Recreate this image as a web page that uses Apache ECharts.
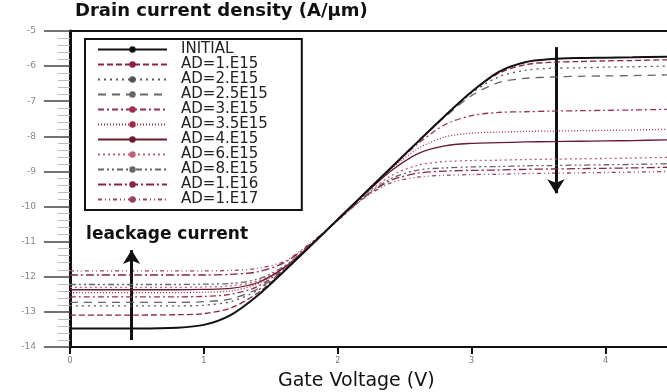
<!DOCTYPE html>
<html>
<head>
<meta charset="utf-8">
<script src="https://cdn.jsdelivr.net/npm/echarts@6/dist/echarts.min.js"></script>
<style>
html, body { margin: 0; padding: 0; background: #fff; }
#chart { width: 667px; height: 392px; }
</style>
</head>
<body>
<div id="chart"></div>
<script>
// gate voltage samples (V)
const gateVoltage = [0, 0.5, 0.8, 1.0, 1.2, 1.4, 1.6, 1.8, 2.0, 2.2, 2.4, 2.6, 2.8, 3.0, 3.2, 3.4, 3.6, 3.8, 4.0, 4.2, 4.46];

// log10 of drain current density (A/um)
const initial = [-13.47, -13.47, -13.45, -13.37, -13.09, -12.54, -11.84, -11.11, -10.37, -9.63, -8.89, -8.15, -7.42, -6.73, -6.17, -5.89, -5.80, -5.77, -5.76, -5.75, -5.73];
const ad1e15 = [-13.09, -13.09, -13.08, -13.05, -12.89, -12.47, -11.83, -11.10, -10.37, -9.63, -8.89, -8.15, -7.42, -6.74, -6.21, -5.96, -5.89, -5.87, -5.85, -5.84, -5.82];
const ad2e15 = [-12.83, -12.83, -12.83, -12.81, -12.71, -12.39, -11.81, -11.10, -10.37, -9.63, -8.89, -8.15, -7.43, -6.77, -6.31, -6.12, -6.06, -6.05, -6.03, -6.02, -6.00];
const ad25e15 = [-12.73, -12.73, -12.73, -12.71, -12.63, -12.35, -11.80, -11.10, -10.37, -9.63, -8.89, -8.15, -7.45, -6.84, -6.47, -6.35, -6.31, -6.29, -6.28, -6.27, -6.25];
const ad3e15 = [-12.57, -12.57, -12.57, -12.56, -12.50, -12.28, -11.77, -11.10, -10.37, -9.63, -8.90, -8.21, -7.67, -7.41, -7.32, -7.30, -7.28, -7.27, -7.26, -7.25, -7.23];
const ad35e15 = [-12.45, -12.45, -12.45, -12.44, -12.40, -12.21, -11.75, -11.09, -10.37, -9.64, -8.93, -8.35, -8.02, -7.91, -7.88, -7.86, -7.85, -7.84, -7.83, -7.82, -7.80];
const ad4e15 = [-12.37, -12.37, -12.37, -12.36, -12.33, -12.17, -11.74, -11.09, -10.37, -9.65, -8.98, -8.49, -8.27, -8.20, -8.18, -8.16, -8.15, -8.14, -8.13, -8.12, -8.10];
const ad6e15 = [-12.30, -12.30, -12.30, -12.29, -12.26, -12.12, -11.72, -11.08, -10.38, -9.68, -9.12, -8.82, -8.72, -8.69, -8.68, -8.66, -8.65, -8.64, -8.63, -8.62, -8.60];
const ad8e15 = [-12.22, -12.22, -12.22, -12.21, -12.19, -12.07, -11.70, -11.08, -10.39, -9.71, -9.20, -8.96, -8.90, -8.87, -8.86, -8.84, -8.83, -8.82, -8.81, -8.80, -8.78];
const ad1e16 = [-11.95, -11.95, -11.95, -11.95, -11.93, -11.86, -11.60, -11.05, -10.39, -9.73, -9.25, -9.05, -8.99, -8.97, -8.96, -8.94, -8.93, -8.92, -8.91, -8.90, -8.88];
const ad1e17 = [-11.83, -11.83, -11.83, -11.83, -11.82, -11.76, -11.56, -11.03, -10.40, -9.75, -9.32, -9.16, -9.11, -9.09, -9.08, -9.06, -9.05, -9.04, -9.03, -9.02, -9.00];

const seriesNames = ['INITIAL', 'AD=1.E15', 'AD=2.E15', 'AD=2.5E15', 'AD=3.E15', 'AD=3.5E15',
  'AD=4.E15', 'AD=6.E15', 'AD=8.E15', 'AD=1.E16', 'AD=1.E17'];
const curves = [initial, ad1e15, ad2e15, ad25e15, ad3e15, ad35e15, ad4e15, ad6e15, ad8e15, ad1e16, ad1e17];
const xTicks = [0, 1, 2, 3, 4];

// line look per curve
const lineStyles = [
  { color: '#111111', width: 2, type: 'solid' },
  { color: '#8a2440', width: 1.3, type: [6, 3] },
  { color: '#555555', width: 1.3, type: [2, 4] },
  { color: '#666666', width: 1.3, type: [8, 6] },
  { color: '#9a3050', width: 1.3, type: [6, 3, 2, 3] },
  { color: '#a02848', width: 1.3, type: [1, 2] },
  { color: '#6b1a2e', width: 1.3, type: 'solid' },
  { color: '#c0607a', width: 1.3, type: [2, 3] },
  { color: '#666666', width: 1.3, type: [6, 3, 2, 3, 2, 3] },
  { color: '#8a2440', width: 1.3, type: [8, 3, 2, 3] },
  { color: '#9a4060', width: 1.3, type: [4, 3, 1, 3, 1, 3] }
];

const series = curves.map((vals, i) => ({
  name: seriesNames[i],
  type: 'line',
  data: gateVoltage.map((v, j) => [v, vals[j]]),
  smooth: 0.3,
  symbol: 'none',
  lineStyle: lineStyles[i],
  itemStyle: { color: lineStyles[i].color },
  z: 3 + curves.length - i
}));

// arrows and the "leackage current" note ride on the INITIAL series
series[0].markLine = {
  silent: true,
  symbol: ['none', 'arrow'],
  symbolSize: [13, 14],
  label: { show: false },
  lineStyle: { color: '#111', width: 3, type: 'solid' },
  emphasis: { disabled: true },
  data: [
    [{ coord: [0.46, -13.8] }, { coord: [0.46, -11.24] }],
    [{ coord: [3.63, -5.46] }, { coord: [3.63, -9.62] }]
  ]
};
series[0].markPoint = {
  silent: true,
  symbol: 'circle',
  symbolSize: 0,
  label: {
    show: true, position: 'right', distance: 0,
    formatter: 'leackage current',
    fontSize: 17, fontWeight: 'bold', color: '#111', fontFamily: 'DejaVu Sans'
  },
  data: [{ coord: [0.12, -10.81] }]
};

const chart = echarts.init(document.getElementById('chart'));

chart.setOption({
  animation: false,
  textStyle: { fontFamily: 'DejaVu Sans' },
  title: [
    {
      text: 'Drain current density (A/\u03bcm)',
      left: 75, top: 2, padding: 0,
      textStyle: { fontSize: 18, fontWeight: 'bold', color: '#111' }
    },
    {
      text: 'Gate Voltage (V)',
      left: 278, top: 372, padding: 0,
      textStyle: { fontSize: 19, fontWeight: 'normal', color: '#111' }
    }
  ],
  legend: {
    data: seriesNames,
    orient: 'vertical',
    left: 85, top: 39,
    padding: [3, 34, 3, 12],
    itemGap: 0,
    itemWidth: 69, itemHeight: 8,
    borderColor: '#111', borderWidth: 2,
    backgroundColor: '#fff',
    selectedMode: false,
    textStyle: { fontSize: 15, lineHeight: 14, color: '#222', padding: [0, 0, 0, 9] }
  },
  grid: { left: 70, right: 0, top: 31, bottom: 45, containLabel: false },
  xAxis: [
    {
      type: 'value', min: 0, max: 4.46, interval: 1, position: 'bottom',
      axisLine: { show: true, onZero: false, lineStyle: { color: '#111', width: 2 } },
      axisTick: { show: true, length: 7, customValues: xTicks, lineStyle: { color: '#111', width: 2 } },
      axisLabel: { customValues: xTicks, fontSize: 8, color: '#777', margin: 10 },
      splitLine: { show: false }
    },
    {
      type: 'value', min: 0, max: 4.46, position: 'top',
      axisLine: { show: true, onZero: false, lineStyle: { color: '#111', width: 2 } },
      axisTick: { show: false },
      axisLabel: { show: false },
      splitLine: { show: false }
    }
  ],
  yAxis: {
    type: 'value', min: -14, max: -5, interval: 1,
    axisLine: { show: true, onZero: false, lineStyle: { color: '#111', width: 3 } },
    axisTick: { show: true, length: 26, lineStyle: { color: '#444', width: 1.5 } },
    minorTick: { show: true, splitNumber: 5, length: 12, lineStyle: { color: '#bbb', width: 1 } },
    axisLabel: { fontSize: 9, color: '#888', margin: 34 },
    splitLine: { show: false }
  },
  series: series
});
</script>
</body>
</html>
